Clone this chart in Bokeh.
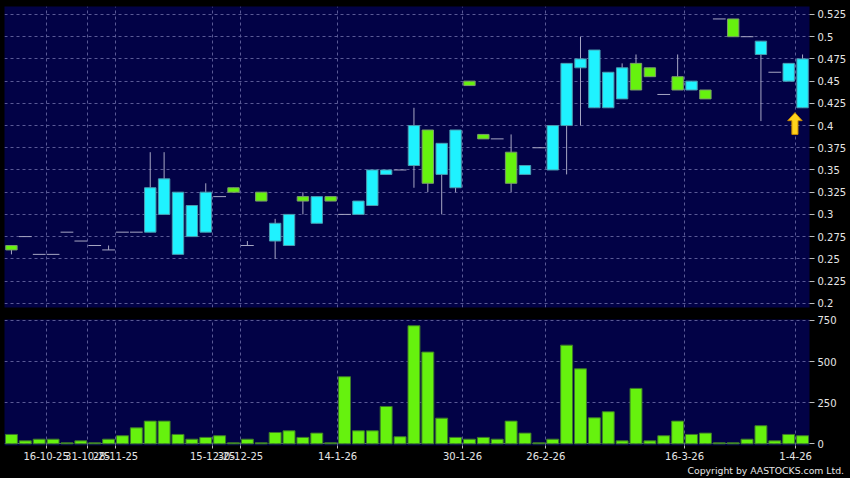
from bokeh.plotting import figure
from bokeh.layouts import column
from bokeh.models import (Range1d, FixedTicker, NumeralTickFormatter, Title)
from bokeh.embed import file_html
from bokeh.resources import INLINE

# ---------------- data ----------------
opens = [0.265, 0.275, 0.255, 0.255, 0.28, 0.27, 0.265, 0.26, 0.28, 0.28,
         0.28, 0.30, 0.255, 0.275, 0.28, 0.32, 0.33, 0.265, 0.325, 0.27,
         0.265, 0.32, 0.29, 0.32, 0.30, 0.30, 0.31, 0.345, 0.35, 0.355,
         0.395, 0.345, 0.33, 0.45, 0.39, 0.385, 0.37, 0.345, 0.375, 0.35,
         0.40, 0.465, 0.42, 0.42, 0.43, 0.47, 0.465, 0.435, 0.455, 0.44,
         0.44, 0.52, 0.52, 0.50, 0.48, 0.46, 0.45, 0.42]
highs = [0.265, 0.275, 0.255, 0.255, 0.28, 0.27, 0.265, 0.265, 0.28, 0.28,
         0.37, 0.37, 0.325, 0.31, 0.335, 0.32, 0.33, 0.27, 0.325, 0.295,
         0.30, 0.325, 0.32, 0.32, 0.30, 0.315, 0.35, 0.35, 0.35, 0.42,
         0.395, 0.38, 0.395, 0.45, 0.39, 0.385, 0.39, 0.355, 0.375, 0.40,
         0.47, 0.50, 0.485, 0.46, 0.47, 0.48, 0.465, 0.435, 0.48, 0.45,
         0.44, 0.52, 0.52, 0.50, 0.495, 0.46, 0.47, 0.48]
lows = [0.255, 0.275, 0.255, 0.255, 0.28, 0.27, 0.265, 0.26, 0.28, 0.28,
        0.28, 0.30, 0.255, 0.275, 0.28, 0.32, 0.325, 0.265, 0.315, 0.25,
        0.265, 0.30, 0.29, 0.315, 0.30, 0.30, 0.31, 0.345, 0.35, 0.33,
        0.325, 0.30, 0.325, 0.445, 0.385, 0.385, 0.325, 0.345, 0.375, 0.35,
        0.345, 0.40, 0.42, 0.42, 0.43, 0.44, 0.455, 0.435, 0.44, 0.44,
        0.43, 0.52, 0.50, 0.50, 0.405, 0.46, 0.45, 0.42]
closes = [0.26, 0.275, 0.255, 0.255, 0.28, 0.27, 0.265, 0.26, 0.28, 0.28,
          0.33, 0.34, 0.325, 0.31, 0.325, 0.32, 0.325, 0.265, 0.315, 0.29,
          0.30, 0.315, 0.32, 0.315, 0.30, 0.315, 0.35, 0.35, 0.35, 0.40,
          0.335, 0.38, 0.395, 0.445, 0.385, 0.385, 0.335, 0.355, 0.375, 0.40,
          0.47, 0.475, 0.485, 0.46, 0.465, 0.44, 0.455, 0.435, 0.44, 0.45,
          0.43, 0.52, 0.50, 0.50, 0.495, 0.46, 0.47, 0.475]
volumes = [57, 18, 28, 28, 6, 18, 6, 28, 49, 97,
           138, 138, 57, 28, 39, 49, 6, 28, 6, 69,
           79, 39, 65, 6, 408, 79, 79, 227, 43, 718,
           558, 156, 39, 28, 39, 28, 138, 65, 6, 28,
           600, 456, 158, 195, 18, 337, 18, 49, 138, 57,
           65, 6, 6, 28, 110, 18, 57, 49]

date_tick_bars = [2, 5, 7, 14, 16, 23, 32, 38, 48, 56]
date_tick_labels = ["16-10-25", "31-10-25", "28-11-25", "15-12-25", "30-12-25",
                    "14-1-26", "30-1-26", "26-2-26", "16-3-26", "1-4-26"]
price_ticks = [0.2, 0.225, 0.25, 0.275, 0.3, 0.325, 0.35, 0.375, 0.4,
               0.425, 0.45, 0.475, 0.5, 0.525]
volume_ticks = [0, 250, 500, 750]

# ---------------- style ----------------
NAVY = "#020246"
CYAN = "#1ff2ff"
GREEN = "#66f20e"
GRID = "#5a5a96"
WICK = "#a8a8c4"
TXT = "#e6e6e6"
FONT = "DejaVu Sans"

n = len(closes)
idx = list(range(n))

up = [i for i in idx if closes[i] > opens[i]]
dn = [i for i in idx if closes[i] < opens[i]]
flat = [i for i in idx if closes[i] == opens[i]]

x_range = Range1d(-0.5, n - 0.5)
grid_pos = [b + 0.5 for b in date_tick_bars]

p = figure(width=850, height=313, x_range=x_range, y_range=Range1d(0.1952, 0.534),
           y_axis_location="right",
           output_backend="svg", toolbar_location=None,
           min_border_left=4, min_border_right=41, min_border_top=6, min_border_bottom=6,
           background_fill_color=NAVY, border_fill_color="black", outline_line_color=None)

# hide the default x axis of the price panel, keep dashed date gridlines
p.xaxis.visible = False
p.xgrid.ticker = FixedTicker(ticks=grid_pos)
p.xgrid.grid_line_color = GRID
p.xgrid.grid_line_dash = "3 3"
p.ygrid.grid_line_color = GRID
p.ygrid.grid_line_dash = "3 3"

ya = p.yaxis[0]
ya.ticker = FixedTicker(ticks=price_ticks)
ya.formatter = NumeralTickFormatter(format="0.[000]")
ya.axis_line_color = None
ya.major_tick_in = 0
ya.major_tick_out = 5
ya.major_tick_line_color = "#bdbdbd"
ya.minor_tick_line_color = None
ya.major_label_standoff = 3
ya.major_label_text_color = TXT
ya.major_label_text_font = FONT
ya.major_label_text_font_size = "10px"

# wicks
p.segment(x0=idx, y0=lows, x1=idx, y1=highs, line_color=WICK, line_width=1)
# flat candles
p.segment(x0=[i - 0.46 for i in flat], y0=[closes[i] for i in flat],
          x1=[i + 0.46 for i in flat], y1=[closes[i] for i in flat],
          line_color=WICK, line_width=1)
# bodies
p.vbar(x=up, top=[closes[i] for i in up], bottom=[opens[i] for i in up], width=0.82,
       fill_color=CYAN, line_color="#4a9cb0", line_width=1)
p.vbar(x=dn, top=[opens[i] for i in dn], bottom=[closes[i] for i in dn], width=0.82,
       fill_color=GREEN, line_color="#7a9c6a", line_width=1)

# yellow arrow under the last candle
ax = n - 1 - 0.55
tip = lows[-1] - 0.0055
p.patch(x=[ax, ax + 0.52, ax + 0.22, ax + 0.22, ax - 0.22, ax - 0.22, ax - 0.52],
        y=[tip, tip - 0.009, tip - 0.009, tip - 0.0245, tip - 0.0245, tip - 0.009, tip - 0.009],
        fill_color="#ffd21c", line_color="#c98a00", line_width=1)

# ---------------- volume ----------------
q = figure(width=850, height=165, x_range=x_range, y_range=Range1d(-10.3, 756),
           y_axis_location="right", output_backend="svg", toolbar_location=None,
           min_border_left=4, min_border_right=41, min_border_top=6, min_border_bottom=33,
           background_fill_color=NAVY, border_fill_color="black", outline_line_color=None)

q.vbar(x=idx, top=volumes, bottom=0, width=0.86, fill_color=GREEN,
       line_color="#3d7a2a", line_width=1)

xa = q.xaxis[0]
xa.ticker = FixedTicker(ticks=grid_pos)
xa.major_label_overrides = {g: lab for g, lab in zip(grid_pos, date_tick_labels)}
xa.axis_line_color = None
xa.major_tick_in = 0
xa.major_tick_out = 3
xa.major_tick_line_color = "#bdbdbd"
xa.minor_tick_line_color = None
xa.major_label_standoff = 3
xa.major_label_text_color = TXT
xa.major_label_text_font = FONT
xa.major_label_text_font_size = "10px"

q.xgrid.grid_line_color = GRID
q.xgrid.grid_line_dash = "3 3"
q.ygrid.grid_line_color = GRID
q.ygrid.grid_line_dash = "3 3"

va = q.yaxis[0]
va.ticker = FixedTicker(ticks=volume_ticks)
va.axis_line_color = None
va.major_tick_in = 0
va.major_tick_out = 5
va.major_tick_line_color = "#bdbdbd"
va.minor_tick_line_color = None
va.major_label_standoff = 3
va.major_label_text_color = TXT
va.major_label_text_font = FONT
va.major_label_text_font_size = "10px"

q.add_layout(Title(text="Copyright by AASTOCKS.com Ltd.", align="left",
                   text_color=TXT, text_font=FONT, text_font_size="9.3px",
                   text_font_style="normal", standoff=0, offset=683), "below")

layout = column(p, q, spacing=0, styles={"background-color": "black"})

html = file_html(layout, INLINE, title="AASTOCKS chart")
html = html.replace("<body>", '<body style="margin:0;background-color:#000000;">', 1)
open("out.html", "w").write(html)
